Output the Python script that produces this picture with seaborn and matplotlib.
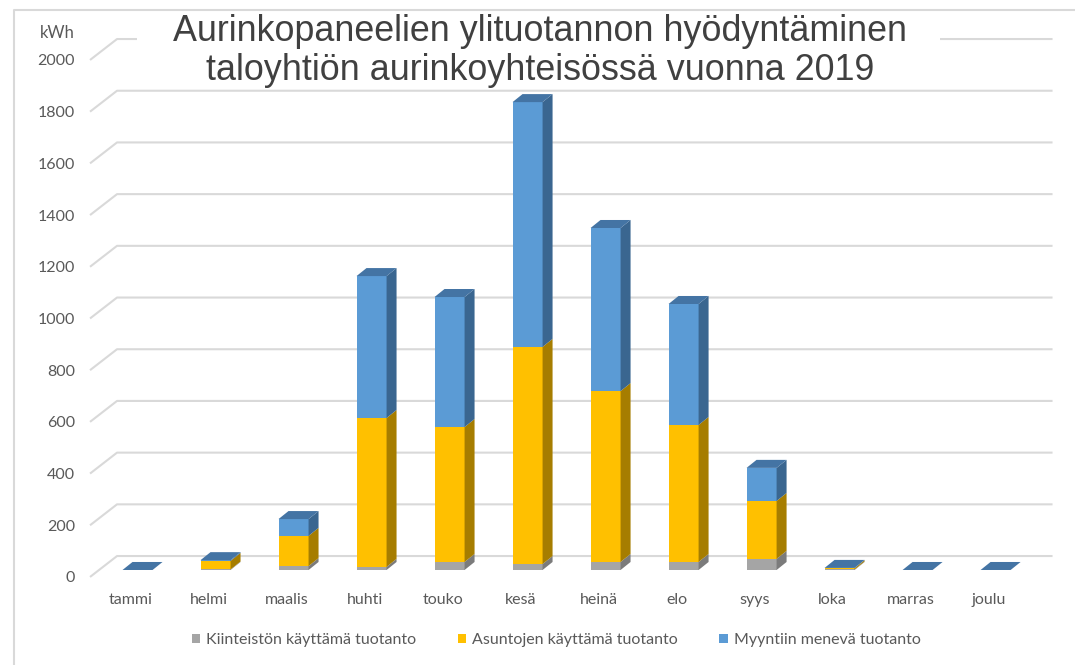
import numpy as np
import pandas as pd
import matplotlib.pyplot as plt
import seaborn as sns
from matplotlib.patches import Polygon, Patch, Rectangle
from matplotlib.lines import Line2D

# data (kWh per month)
months = ["tammi", "helmi", "maalis", "huhti", "touko", "kesä",
          "heinä", "elo", "syys", "loka", "marras", "joulu"]
kiinteisto = [0, 2, 15, 12, 31, 23, 31, 31, 43, 2, 0, 0]
asunnot = [0, 33, 117, 576, 522, 840, 661, 530, 224, 5, 0, 0]
myynti = [0, 3, 65, 549, 503, 947, 631, 468, 128, 1, 0, 0]
series_names = ["Kiinteistön käyttämä tuotanto", "Asuntojen käyttämä tuotanto",
                "Myyntiin menevä tuotanto"]
y_ticks = list(range(0, 2001, 200))
title = "Aurinkopaneelien ylituotannon hyödyntäminen\ntaloyhtiön aurinkoyhteisössä vuonna 2019"

df = pd.DataFrame({"month": months, "k": kiinteisto, "a": asunnot, "m": myynti})
df["ka"] = df["k"] + df["a"]
df["total"] = df["ka"] + df["m"]

front = ["#A5A5A5", "#FFC000", "#5B9BD5"]
side = ["#7B7B7B", "#A67D00", "#3A6690"]
top_col = "#4474A4"
grid_col = "#D9D9D9"
text_col = "#595959"

sns.set_style("white")
plt.rcParams["font.family"] = ["Lato", "DejaVu Sans"]

W, H = 1075, 665
fig = plt.figure(figsize=(W / 100, H / 100), dpi=100)
ax = fig.add_axes([88 / W, 1 - 590 / H, (1058 - 88) / W, (590 - 25) / H])

# stacked front faces: draw cumulative totals on top of each other
for col, c in zip(["total", "ka", "k"], front[::-1]):
    sns.barplot(data=df, x="month", y=col, color=c, width=0.385, saturation=1,
                linewidth=0, edgecolor="none", ax=ax, zorder=2)

# fake 3d depth: side and top faces
dx, dy = 0.128, 31
levels = df[["k", "ka", "total"]].to_numpy()
for i, bar in enumerate(ax.containers[0]):
    xl = bar.get_x()
    xr = xl + bar.get_width()
    bottom = 0
    for s in range(3):
        t = levels[i, s]
        if t > bottom:
            ax.add_patch(Polygon([(xr, bottom), (xr + dx, bottom + dy),
                                  (xr + dx, t + dy), (xr, t)],
                                 closed=True, facecolor=side[s], edgecolor="none", zorder=2))
        bottom = t
    T = levels[i, 2]
    ax.add_patch(Polygon([(xl, T), (xl + dx, T + dy), (xr + dx, T + dy), (xr, T)],
                         closed=True, facecolor=top_col, edgecolor="none", zorder=2))

# back wall gridlines with the little slanted floor part on the left
for v in y_ticks:
    ax.plot([-0.609, -0.263, 11.73], [v - 27, v + 54, v + 54], color=grid_col,
            lw=1.5, zorder=0.5, clip_on=False, solid_capstyle="butt")

ax.set_xlim(-0.635, 11.80)
ax.set_ylim(-77.4, 2108.3)
ax.set_yticks(np.array(y_ticks) - 27, labels=[str(v) for v in y_ticks])
ax.set_xticks(np.arange(len(months)) - 0.09, labels=months)
ax.set_xlabel("")
ax.set_ylabel("")
ax.tick_params(axis="both", length=0, labelsize=11.5, labelcolor=text_col)
ax.tick_params(axis="y", pad=9.4)
ax.tick_params(axis="x", pad=2)
for sp in ax.spines.values():
    sp.set_visible(False)

# outer chart border
fig.add_artist(Line2D([14 / W, 14 / W, 1.0], [0, 1 - 10 / H, 1 - 10 / H],
                      color=grid_col, lw=1.5, transform=fig.transFigure))

# white box behind the title hides the top gridline
fig.add_artist(Rectangle((137 / W, 1 - 87 / H), (940 - 137) / W, 75 / H,
                         facecolor="white", edgecolor="none",
                         transform=fig.transFigure, zorder=3))
fig.text(540 / W, 1 - 51 / H, title, ha="center", va="center", fontsize=25.8,
         family=["Liberation Sans", "DejaVu Sans"], color="#404040",
         linespacing=1.12, zorder=4)
fig.text(57 / W, 1 - 33 / H, "kWh", ha="center", va="center", fontsize=12,
         color=text_col)

handles = [Patch(facecolor=c, edgecolor="none") for c in front]
fig.legend(handles, series_names, ncol=3, loc="center",
           bbox_to_anchor=(556 / W, 1 - 640 / H), frameon=False,
           handlelength=0.55, handleheight=0.55, handletextpad=0.35,
           columnspacing=2.6, fontsize=11.5, labelcolor=text_col)

fig.savefig("out.png", dpi=100)
